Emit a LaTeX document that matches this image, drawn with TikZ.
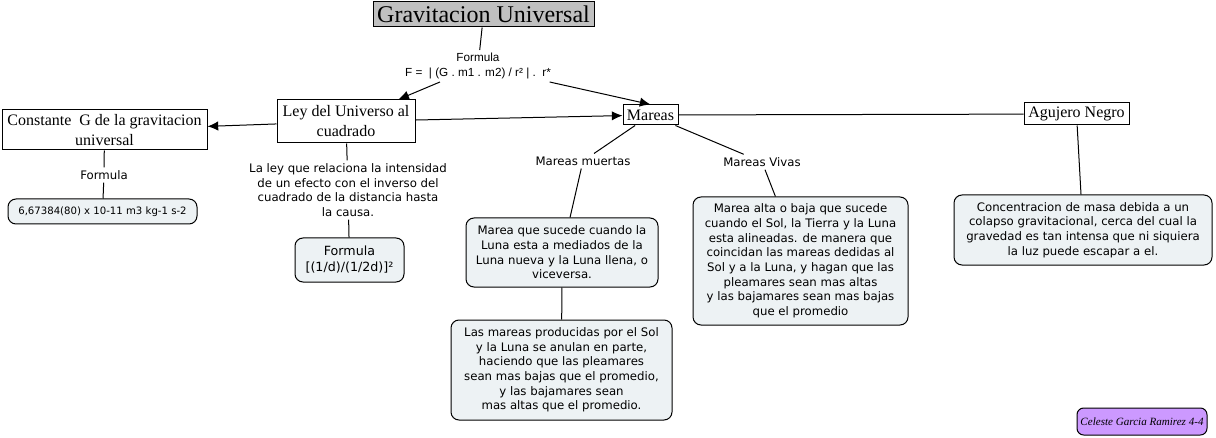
\documentclass[tikz,border=0pt]{standalone}
\usepackage{fontspec}
\setmainfont{Liberation Serif}
\setsansfont{DejaVu Sans}
\newfontfamily\arialfont{Liberation Sans}
\usetikzlibrary{arrows.meta}
\definecolor{MapGrey}{HTML}{C0C0C0}
\definecolor{MapNote}{HTML}{EDF2F4}
\definecolor{MapLilac}{HTML}{CC99FF}

\begin{document}
\begin{tikzpicture}[x=0.75pt,y=-0.75pt,line width=0.75pt,>={Latex[length=8pt,width=7pt]},
  concept/.style={draw,fill=white,align=center,inner sep=1pt,font=\fontsize{12}{15}\selectfont},
  note/.style={draw,fill=MapNote,rounded corners=6pt,align=center,inner sep=1pt,
    font=\sffamily\fontsize{8.8}{11}\selectfont},
  linkword/.style={align=center,inner sep=2pt,font=\sffamily\fontsize{8.8}{11}\selectfont}]
  \useasboundingbox (0,0) rectangle (1216,438);

  \node[concept,fill=MapGrey,font=\fontsize{18}{20}\selectfont,minimum width=165.75pt,minimum height=18.75pt]
    (titulo) at (483.5,14.5) {Gravitacion Universal};
  \node[linkword,font=\arialfont\fontsize{8.8}{11}\selectfont] (formula) at (478,66)
    {Formula\\F =\ \ | (G . m1 . m2) / r² |\ .\ \ r*};
  \node[concept,minimum width=103.5pt,minimum height=32.25pt] (ley) at (346,121.5)
    {Ley del Universo al\\cuadrado};
  \node[concept,minimum width=153.75pt,minimum height=30pt] (constante) at (104.5,130)
    {Constante\ \ G de la gravitacion\\universal};
  \node[concept,minimum width=41.25pt,minimum height=15pt] (mareas) at (650.5,115) {Mareas};
  \node[concept,minimum width=78.75pt,minimum height=16.5pt] (agujero) at (1076.5,114) {Agujero Negro};

  % constante G
  \node[linkword] (formulaG) at (104,175) {Formula};
  \node[note,font=\sffamily\fontsize{7.6}{9}\selectfont,minimum width=141.75pt,minimum height=18.75pt]
    (valorG) at (102.5,211.5) {6,67384(80) x 10-11 m3 kg-1 s-2};

  % ley del inverso del cuadrado
  \node[linkword] (leyTexto) at (348,190)
    {La ley que relaciona la intensidad\\de un efecto con el inverso del\\cuadrado de la distancia hasta\\la causa.};
  \node[note,font=\sffamily\fontsize{9.5}{12}\selectfont,minimum width=81.75pt,minimum height=33pt]
    (leyFormula) at (349.5,260) {Formula\\{[(1/d)/(1/2d)]²}};

  % mareas
  \node[linkword] (muertas) at (583,161) {Mareas muertas};
  \node[linkword] (vivas) at (762,162) {Mareas Vivas};
  \node[note,minimum width=144pt,minimum height=51.75pt] (muertasDef) at (562,252.5)
    {Marea que sucede cuando la\\Luna esta a mediados de la\\Luna nueva y la Luna llena, o\\viceversa.};
  \node[note,minimum width=165.75pt,minimum height=75pt] (muertasEfecto) at (561.5,370)
    {Las mareas producidas por el Sol\\y la Luna se anulan en parte,\\haciendo que las pleamares\\sean mas bajas que el promedio,\\y las bajamares sean\\mas altas que el promedio.};
  \node[note,minimum width=161.25pt,minimum height=96pt] (vivasDef) at (800.5,261)
    {Marea alta o baja que sucede\\cuando el Sol, la Tierra y la Luna\\esta alineadas. de manera que\\coincidan las mareas dedidas al\\Sol y a la Luna, y hagan que las\\pleamares sean mas altas\\y las bajamares sean mas bajas\\que el promedio};

  % agujero negro
  \node[note,minimum width=193.5pt,minimum height=52.5pt] (agujeroDef) at (1083,230)
    {Concentracion de masa debida a un\\colapso gravitacional, cerca del cual la\\gravedad es tan intensa que ni siquiera\\la luz puede escapar a el.};

  \node[note,fill=MapLilac,rounded corners=5pt,font=\itshape\fontsize{8.3}{10}\selectfont,
    minimum width=97.5pt,minimum height=20.25pt] (autora) at (1142,421.5) {Celeste Garcia Ramirez 4-4};

  \draw (titulo) -- (formula);
  \draw[->] (formula) -- (ley);
  \draw[->] (formula) -- (mareas.north);
  \draw[->] (ley) -- (mareas);
  \draw[->] (ley) -- (constante);
  \draw (constante) -- (formulaG);
  \draw (formulaG) -- (valorG);
  \draw (ley) -- (leyTexto);
  \draw (leyTexto) -- (leyFormula);
  \draw (mareas) -- (muertas);
  \draw (muertas) -- (muertasDef);
  \draw (muertasDef) -- (muertasEfecto);
  \draw (mareas) -- (vivas);
  \draw (vivas) -- (vivasDef);
  \draw (mareas) -- (agujero);
  \draw (agujero) -- (agujeroDef);
\end{tikzpicture}
\end{document}
